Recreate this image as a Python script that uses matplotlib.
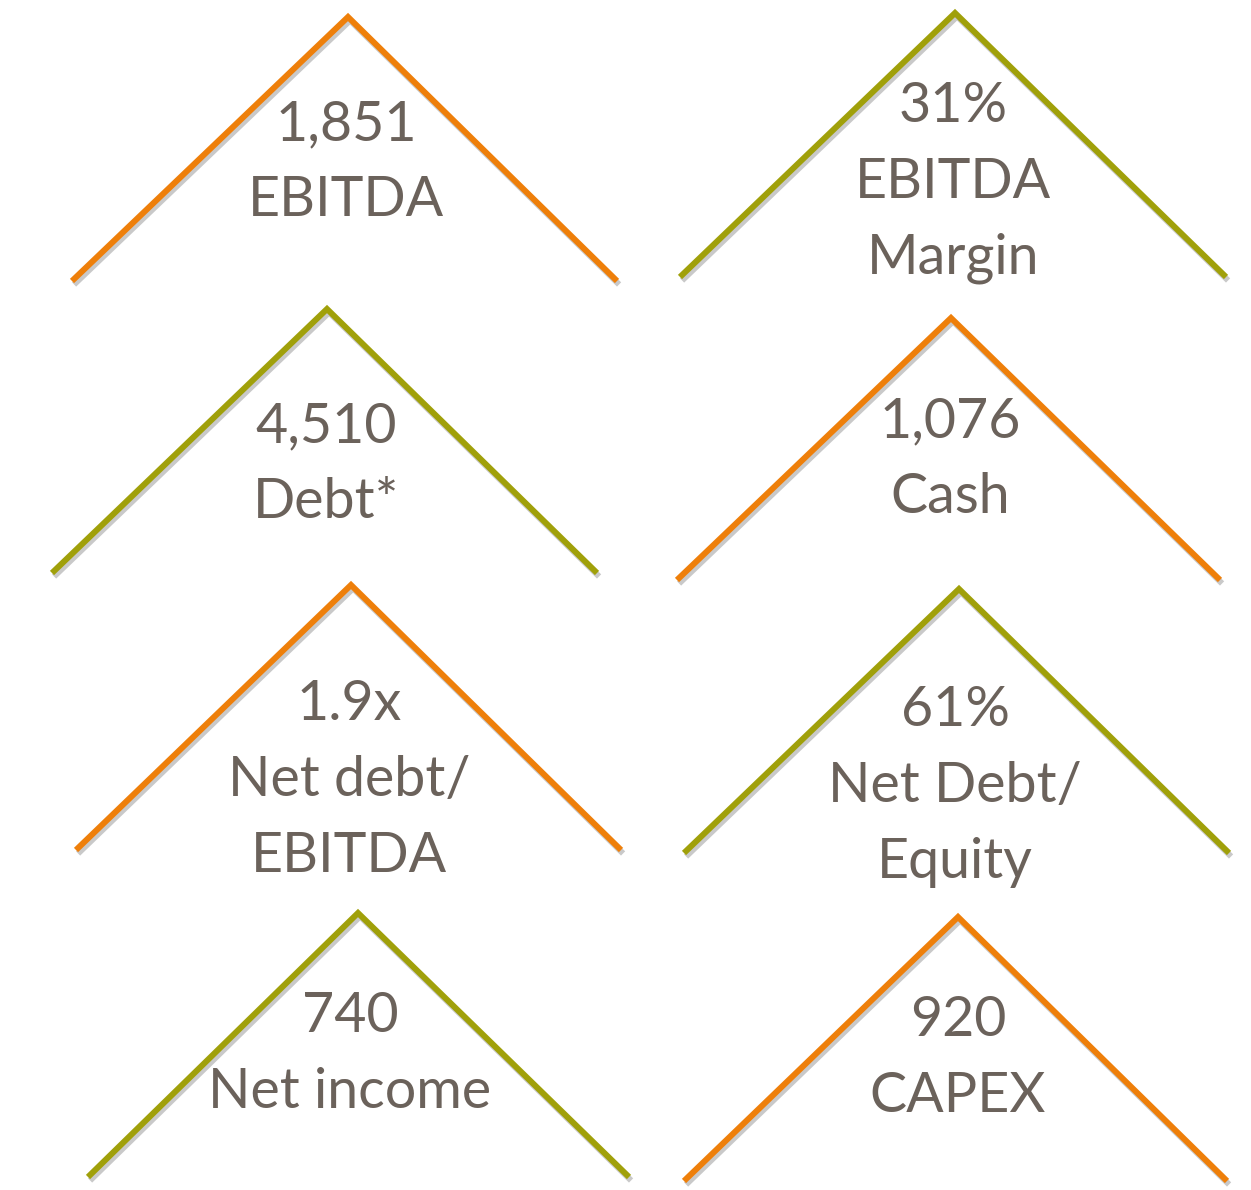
import matplotlib
matplotlib.use("Agg")
import matplotlib.pyplot as plt
import matplotlib.patheffects as pe

# ---- data ----
values = ["1,851", "31%", "4,510", "1,076", "1.9x", "61%", "740", "920"]
labels = ["EBITDA", "EBITDA\nMargin", "Debt*", "Cash", "Net debt/\nEBITDA",
          "Net Debt/\nEquity", "Net income", "CAPEX"]
color_keys = ["orange", "olive", "olive", "orange", "orange", "olive", "olive", "orange"]

# ---- layout (pixels): left end, apex, right end, first text baseline ----
left_x = [72, 680, 52, 677, 76, 684, 88, 684]
base_y = [281, 277, 573, 580, 850, 853, 1177, 1181]
apex_x = [348, 955, 327, 951, 351, 959, 358, 958]
apex_y = [17, 13, 309, 318, 585, 589, 913, 917]
right_x = [617, 1226, 597, 1220, 621, 1229, 629, 1227]
text_x = [346, 953, 326, 950, 349, 955, 350, 958]
text_base = [140, 122, 442, 437, 720, 726, 1032, 1036]

palette = {"orange": "#EE7F0A", "olive": "#A0A00A"}
text_color = "#6B625B"
line_step = 76

W, H = 1251, 1190
fig = plt.figure(figsize=(W / 100, H / 100), dpi=100)
ax = fig.add_axes([0, 0, 1, 1])
ax.set_xlim(0, W)
ax.set_ylim(H, 0)
ax.axis("off")

for i in range(len(values)):
    xs = [left_x[i], apex_x[i], right_x[i]]
    ys = [base_y[i], apex_y[i], base_y[i]]
    ax.plot(xs, ys, color=palette[color_keys[i]], lw=4.3, solid_capstyle="butt",
            solid_joinstyle="miter",
            path_effects=[pe.SimpleLineShadow(offset=(1.5, -2.5), shadow_color="#888888", alpha=0.45),
                          pe.Normal()])
    lines = [values[i]] + labels[i].split("\n")
    for k, t in enumerate(lines):
        ax.text(text_x[i], text_base[i] + k * line_step, t, ha="center", va="baseline",
                fontsize=40, color=text_color, family=["Lato", "DejaVu Sans"])

fig.savefig("out.png", dpi=100)
